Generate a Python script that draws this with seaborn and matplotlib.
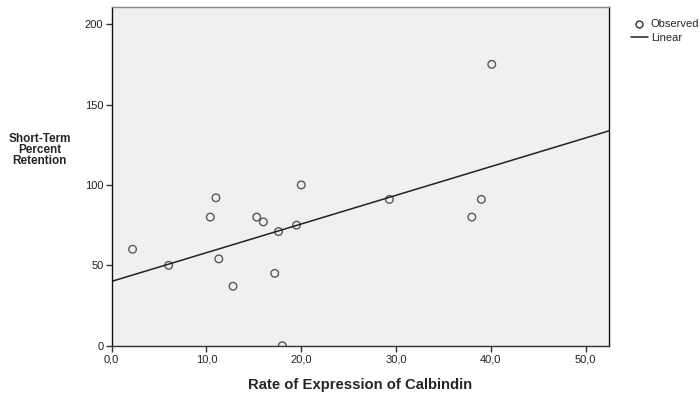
"""SPSS-style scatter with linear fit: calbindin expression vs short-term retention."""

import matplotlib
matplotlib.use("Agg")
import matplotlib.pyplot as plt
import pandas as pd
import seaborn as sns
from matplotlib.lines import Line2D
from matplotlib.ticker import FuncFormatter

calbindin_rate = [2.2, 6.0, 10.4, 11.0, 11.3, 12.8, 15.3, 16.0, 17.6,
                  17.2, 18.0, 19.5, 20.0, 29.3, 39.0, 38.0, 40.1]
retention_pct = [60, 50, 80, 92, 54, 37, 80, 77, 71,
                 45, 0, 75, 100, 91, 91, 80, 175]

x_ticks = [0, 10, 20, 30, 40, 50]
y_ticks = [0, 50, 100, 150, 200]
legend_labels = ["Observed", "Linear"]

df = pd.DataFrame({"rate": calbindin_rate, "retention": retention_pct})

sns.set_style("white")
plt.rcParams["font.family"] = ["Liberation Sans", "DejaVu Sans"]

fig = plt.figure(figsize=(7.0, 3.96), dpi=100)
ax = fig.add_axes([0.1596, 0.127, 0.7108, 0.8546])
ax.set_facecolor("#F0F0F0")
ax.set_xlim(0, 52.5)
ax.set_ylim(0, 210.5)

sns.regplot(
    data=df, x="rate", y="retention", ax=ax, ci=None, truncate=False,
    scatter_kws=dict(s=30, facecolors="none", edgecolors="#333333", linewidths=1.0),
    line_kws=dict(color="#222222", linewidth=1.1),
)

ax.set_xticks(x_ticks)
ax.set_yticks(y_ticks)
ax.xaxis.set_major_formatter(FuncFormatter(lambda v, _: f"{v:.1f}".replace(".", ",")))
ax.tick_params(axis="both", direction="out", length=4, width=1, color="#333333",
               labelsize=8, labelcolor="#222222", pad=2)
ax.tick_params(axis="x", bottom=True)
ax.tick_params(axis="y", left=True)

for side in ["left", "right"]:
    ax.spines[side].set_color("#111111")
ax.spines["bottom"].set_color("#333333")
ax.spines["top"].set_color("#888888")
for s in ax.spines.values():
    s.set_linewidth(1.0)

ax.set_xlabel("Rate of Expression of Calbindin", fontsize=10.7, fontweight="bold", labelpad=10)
ax.set_ylabel("")
fig.text(0.057, 0.621, "Short-Term\nPercent\nRetention", ha="center", va="center",
         fontsize=8.5, fontweight="bold", linespacing=0.85)

handles = [
    Line2D([], [], marker="o", linestyle="none", markerfacecolor="none",
           markeredgecolor="#333333", markersize=5),
    Line2D([], [], color="#222222", linewidth=1.1),
]
fig.legend(handles, legend_labels, loc="upper left", bbox_to_anchor=(0.895, 0.962),
           frameon=False, fontsize=8, handlelength=1.5, handletextpad=0.3,
           labelspacing=0.35, borderaxespad=0)

fig.savefig("out.png", dpi=100)
plt.close(fig)
